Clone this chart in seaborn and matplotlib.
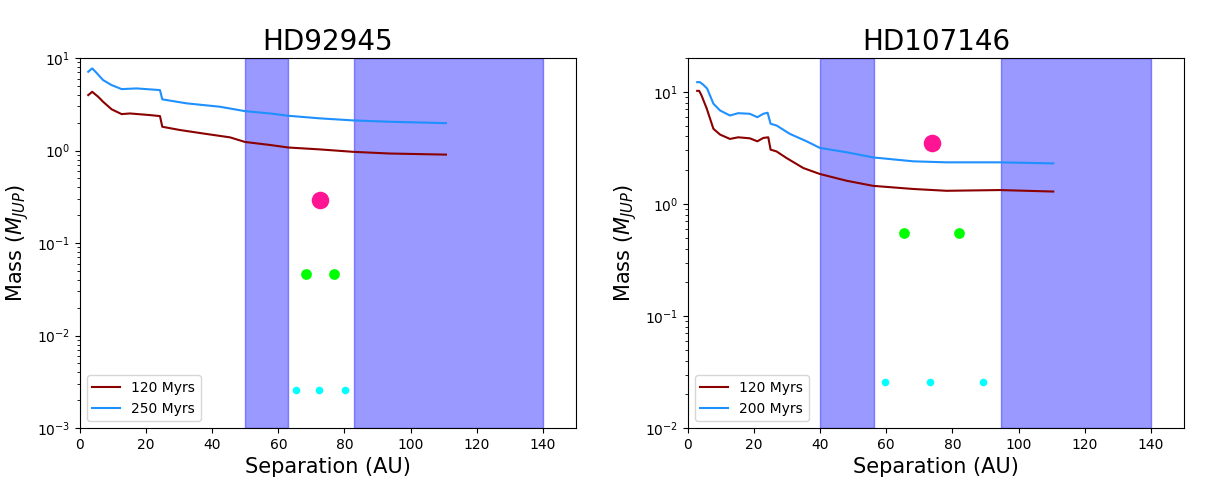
import pandas as pd
import matplotlib
matplotlib.use("Agg")
import matplotlib.pyplot as plt
import seaborn as sns

# HD92945 detection limits (separation in AU, mass in M_JUP)
sep_hd92945 = [2.5, 3.7, 5.5, 7.0, 9.6, 12.6, 15.1, 21.2, 24.2, 24.9, 30.2, 37.3,
               45.4, 49.9, 57.5, 63.0, 72.6, 82.6, 93.7, 110.7]
mass_hd92945_120 = [3.98, 4.32, 3.82, 3.37, 2.79, 2.48, 2.52, 2.42, 2.36, 1.81, 1.67, 1.53,
                    1.39, 1.24, 1.15, 1.08, 1.03, 0.97, 0.93, 0.905]
sep_hd92945_b = [2.5, 3.7, 5.0, 7.0, 9.6, 12.6, 17.1, 24.2, 24.9, 32.3, 42.3, 49.9,
                 57.5, 63.0, 72.6, 82.6, 93.7, 110.7]
mass_hd92945_250 = [7.11, 7.74, 6.93, 5.78, 5.10, 4.62, 4.70, 4.51, 3.58, 3.24, 2.98, 2.67,
                    2.52, 2.38, 2.23, 2.12, 2.05, 1.98]

# HD107146 detection limits
sep_hd107146 = [2.8, 3.4, 4.1, 5.7, 7.7, 9.7, 12.7, 15.2, 18.7, 21.0, 22.8, 24.3, 25.0,
                26.8, 29.8, 34.9, 39.9, 48.0, 56.0, 68.1, 78.2, 94.3, 110.5]
mass_hd107146_120 = [10.2, 10.2, 9.3, 7.07, 4.68, 4.16, 3.80, 3.93, 3.85, 3.62, 3.88, 3.93, 3.05,
                     2.94, 2.57, 2.09, 1.85, 1.61, 1.45, 1.36, 1.31, 1.33, 1.29]
sep_hd107146_b = [2.8, 3.6, 4.6, 5.8, 7.7, 9.7, 12.7, 15.2, 18.7, 21.0, 22.8, 24.1, 25.0,
                  26.8, 30.8, 35.9, 39.9, 48.0, 56.0, 68.1, 78.2, 94.3, 110.5]
mass_hd107146_200 = [12.2, 12.2, 11.6, 10.7, 7.84, 6.82, 6.15, 6.45, 6.37, 5.94, 6.37, 6.51, 5.19,
                     5.01, 4.22, 3.62, 3.16, 2.89, 2.60, 2.40, 2.35, 2.35, 2.30]

# Disc (belt) regions
belts_hd92945 = [(50, 63), (82.8, 140)]
belts_hd107146 = [(40, 56.2), (94.6, 140)]

# Planet positions: (separations, masses)
big_hd92945 = ([72.6], [0.29])
mid_hd92945 = ([68.3, 76.8], [0.046, 0.046])
small_hd92945 = ([65.3, 72.3, 80.1], [0.0026, 0.0026, 0.0026])

big_hd107146 = ([73.8], [3.5])
mid_hd107146 = ([65.3, 81.9], [0.55, 0.55])
small_hd107146 = ([59.6, 73.2, 89.2], [0.026, 0.026, 0.026])

fig, axes = plt.subplots(1, 2, figsize=(12.08, 4.8), dpi=100)
plt.subplots_adjust(left=0.0662, right=0.980, bottom=0.108, top=0.879, wspace=0.226)


def draw(ax, title, lines, belts, big, mid, small, ylim):
    for (x, y, color, label) in lines:
        sns.lineplot(x=x, y=y, color=color, label=label, ax=ax, estimator=None, linewidth=1.5)
    for a, b in belts:
        ax.axvspan(a, b, color='blue', alpha=0.4)
    sns.scatterplot(x=big[0], y=big[1], color='#ff1493', s=160, linewidth=0, ax=ax, zorder=3)
    sns.scatterplot(x=mid[0], y=mid[1], color='#00ff00', s=60, linewidth=0, ax=ax, zorder=3)
    sns.scatterplot(x=small[0], y=small[1], color='#00ffff', s=30, linewidth=0, ax=ax, zorder=3)
    ax.set_yscale('log')
    ax.set_xlim(0, 150)
    ax.set_ylim(*ylim)
    ax.set_title(title, fontsize=20)
    ax.set_xlabel("Separation (AU)", fontsize=15)
    ax.set_ylabel(r"Mass ($M_{JUP}$)", fontsize=15)
    ax.legend(loc='lower left', fontsize=10)


draw(axes[0], "HD92945",
     [(sep_hd92945, mass_hd92945_120, '#8b0000', '120 Myrs'),
      (sep_hd92945_b, mass_hd92945_250, '#1e90ff', '250 Myrs')],
     belts_hd92945, big_hd92945, mid_hd92945, small_hd92945, (1e-3, 10))

draw(axes[1], "HD107146",
     [(sep_hd107146, mass_hd107146_120, '#8b0000', '120 Myrs'),
      (sep_hd107146_b, mass_hd107146_200, '#1e90ff', '200 Myrs')],
     belts_hd107146, big_hd107146, mid_hd107146, small_hd107146, (1e-2, 20))

plt.savefig("out.png", dpi=100)
